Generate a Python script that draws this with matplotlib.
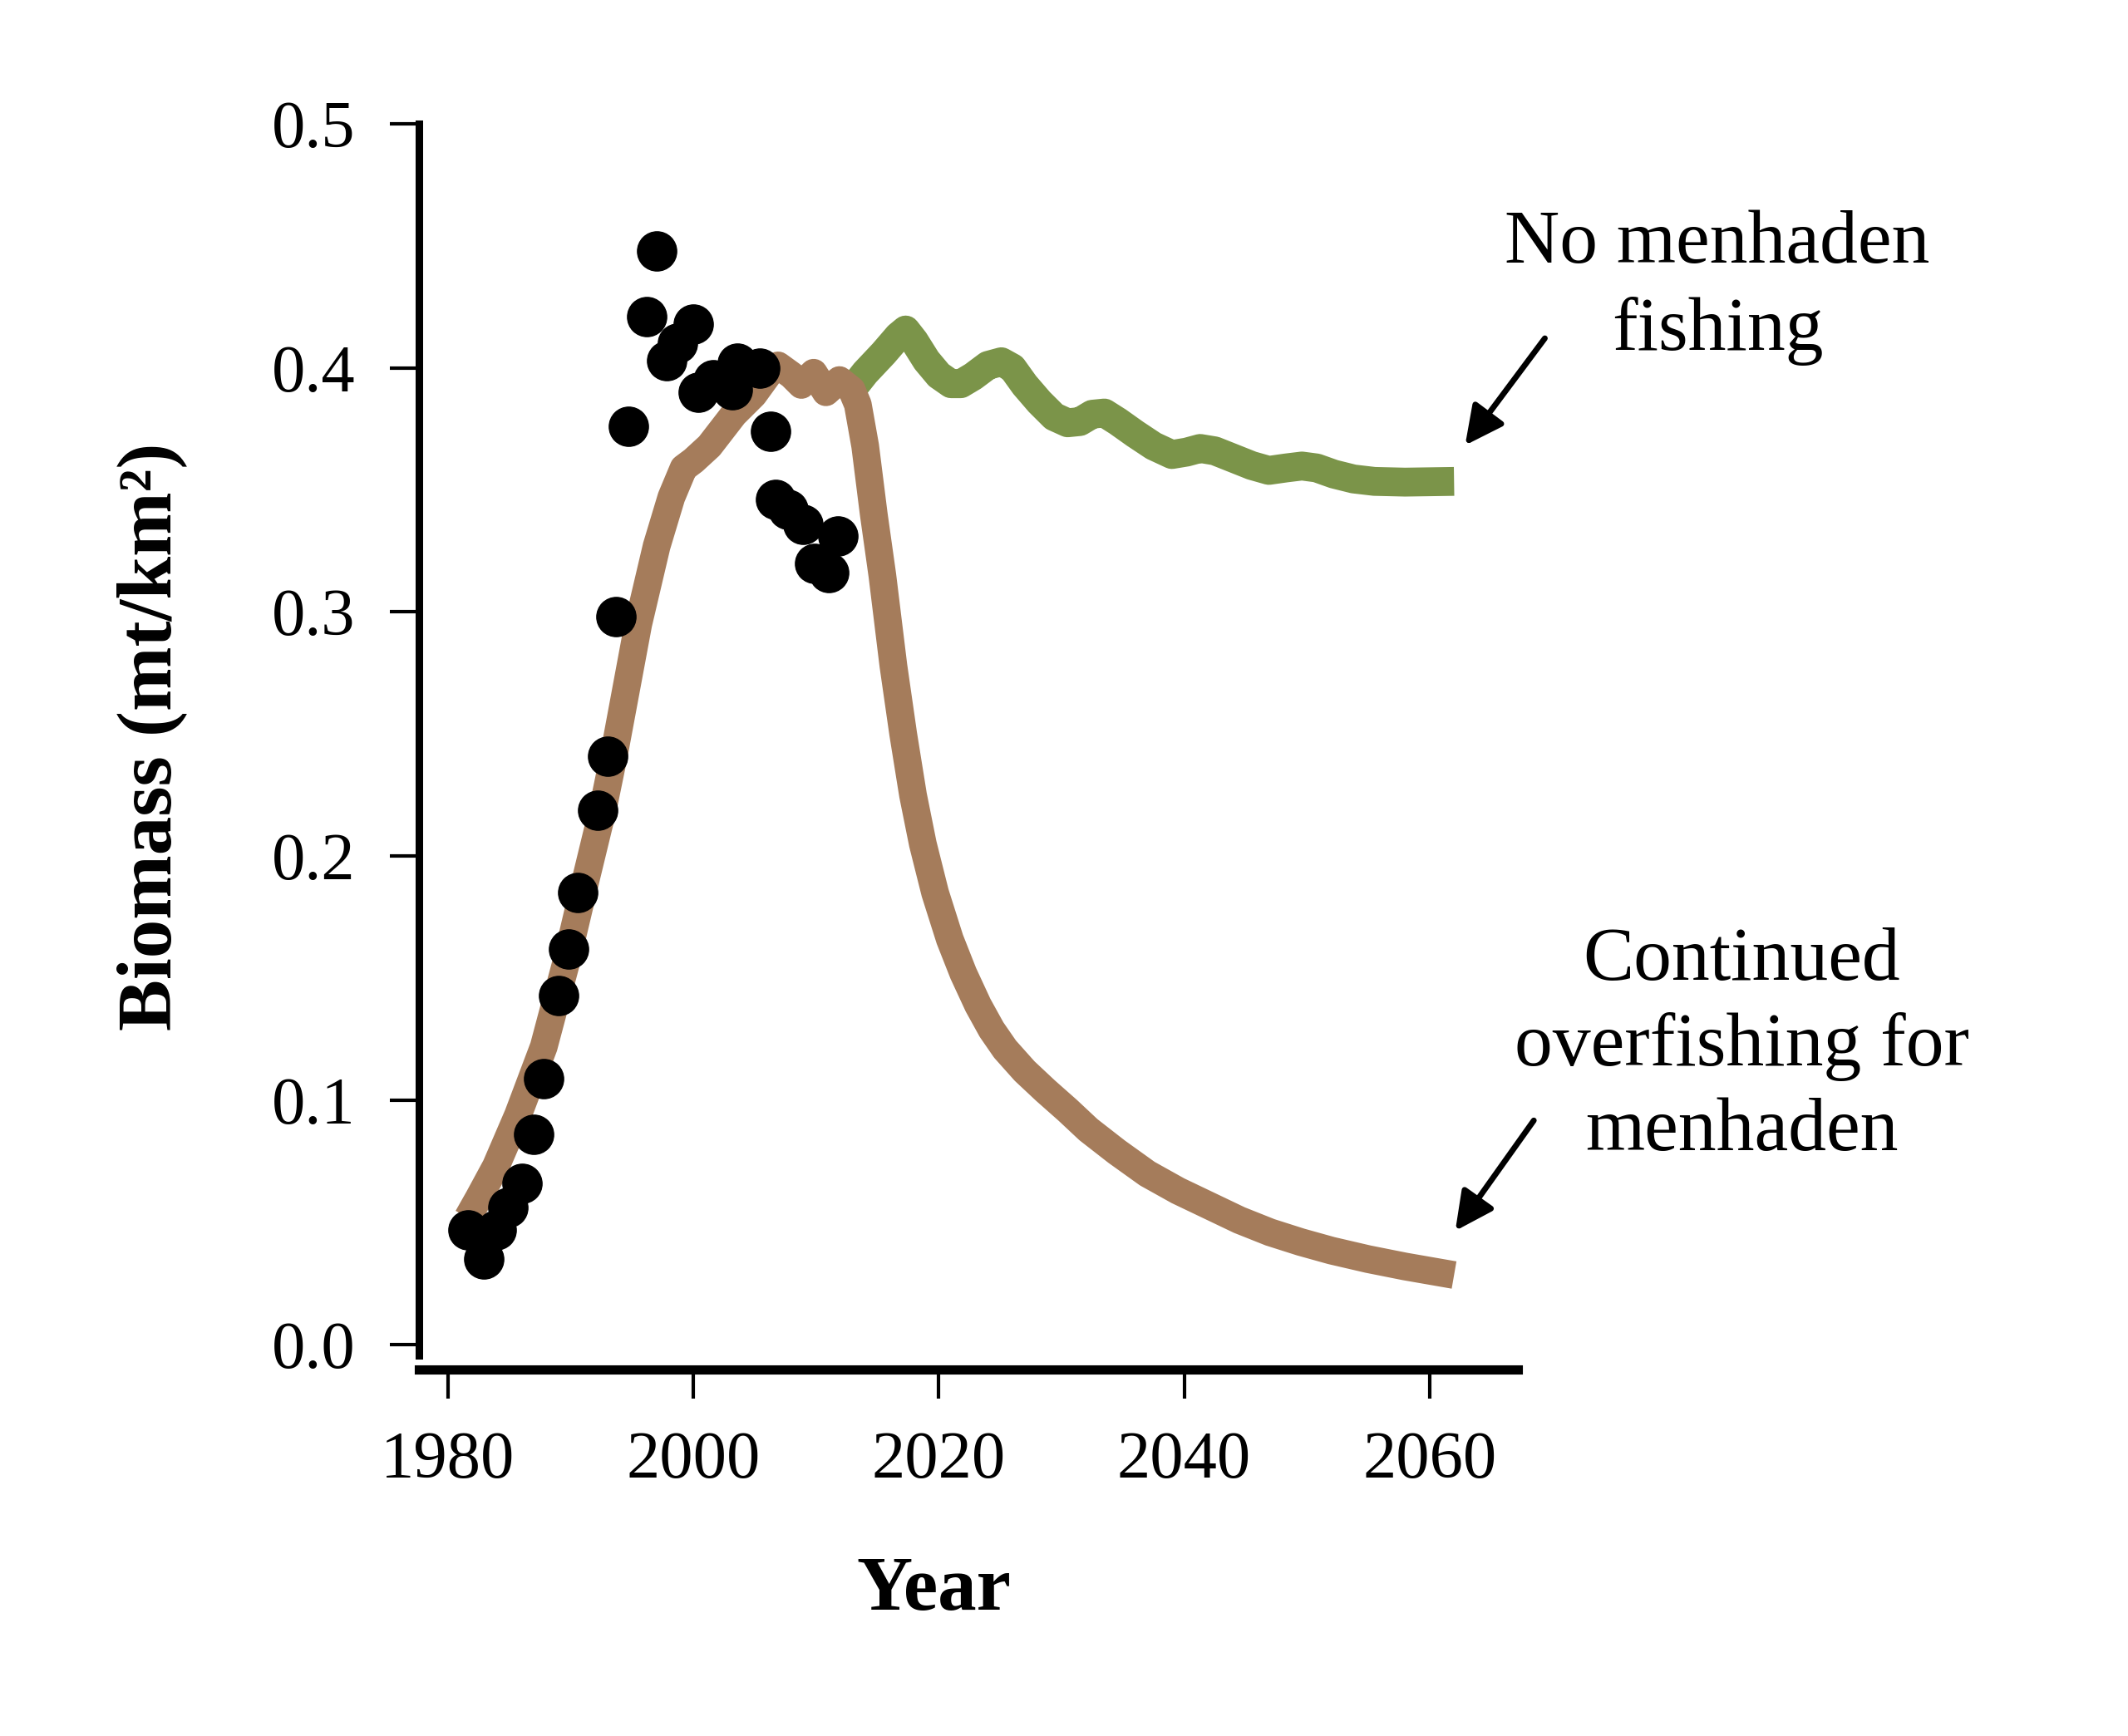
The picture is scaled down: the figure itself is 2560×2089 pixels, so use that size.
import matplotlib
matplotlib.use("Agg")
import matplotlib.pyplot as plt

plt.rcParams['font.family'] = ['Liberation Serif', 'DejaVu Serif']

# observed biomass (dots)
obs_year = [1981.6, 1982.9, 1983.9, 1984.9, 1986.0, 1987.0, 1987.8, 1989.0, 1989.8,
            1990.6, 1992.2, 1993.0, 1993.7, 1994.7, 1996.2, 1997.0, 1997.8, 1998.7,
            2000.0, 2000.4, 2001.6, 2003.2, 2003.6, 2005.4, 2006.3, 2006.7, 2007.7,
            2008.9, 2009.9, 2011.0, 2011.8]
obs_biomass = [0.047, 0.035, 0.047, 0.056, 0.066, 0.086, 0.109, 0.143, 0.162,
               0.185, 0.219, 0.241, 0.298, 0.376, 0.421, 0.448, 0.403, 0.410,
               0.418, 0.390, 0.395, 0.391, 0.402, 0.400, 0.374, 0.346, 0.342,
               0.336, 0.320, 0.316, 0.331]

# model run with continued overfishing
fished_year = [1981.6, 1982.5, 1983.9, 1985.7, 1987.8, 1989.6, 1991.2, 1992.6, 1993.5,
               1995.5, 1997.0, 1998.2, 1999.2, 2000.0, 2001.3, 2003.3, 2004.9, 2006.2,
               2006.9, 2008.0, 2008.8, 2009.8, 2010.8, 2011.9, 2012.9, 2013.4, 2014.0,
               2014.7, 2015.4, 2016.3, 2017.1, 2017.9, 2018.7, 2019.7, 2020.9, 2022.0,
               2023.2, 2024.3, 2025.4, 2027.0, 2028.7, 2030.5, 2032.2, 2034.5, 2037.0,
               2039.5, 2042.0, 2044.5, 2047.0, 2049.5, 2052.0, 2055.0, 2058.0, 2062.0]
fished_biomass = [0.052, 0.060, 0.073, 0.094, 0.122, 0.156, 0.190, 0.219, 0.241,
                  0.295, 0.327, 0.347, 0.359, 0.362, 0.368, 0.381, 0.389, 0.398,
                  0.401, 0.397, 0.393, 0.398, 0.390, 0.395, 0.391, 0.385, 0.368,
                  0.340, 0.315, 0.278, 0.250, 0.225, 0.205, 0.185, 0.166, 0.152,
                  0.139, 0.129, 0.121, 0.112, 0.104, 0.096, 0.088, 0.079, 0.070,
                  0.063, 0.057, 0.051, 0.046, 0.042, 0.0385, 0.035, 0.032, 0.0285]

# model run with no menhaden fishing
nofish_year = [2012.9, 2014.0, 2015.5, 2016.7, 2017.3, 2018.0, 2019.0, 2020.0, 2021.0,
               2021.8, 2022.8, 2024.0, 2025.1, 2026.0, 2027.0, 2028.2, 2029.4, 2030.5,
               2031.5, 2032.5, 2033.5, 2034.6, 2036.0, 2037.5, 2039.0, 2040.2, 2041.3,
               2042.5, 2044.0, 2045.5, 2046.9, 2048.3, 2049.6, 2050.8, 2052.2, 2053.8,
               2055.5, 2058.0, 2062.0]
nofish_biomass = [0.391, 0.398, 0.406, 0.413, 0.4155, 0.411, 0.403, 0.397, 0.3935,
                  0.3935, 0.3965, 0.401, 0.4025, 0.400, 0.393, 0.386, 0.380, 0.3775,
                  0.378, 0.381, 0.3815, 0.378, 0.373, 0.368, 0.3645, 0.3655, 0.367,
                  0.366, 0.363, 0.360, 0.358, 0.359, 0.3598, 0.359, 0.3565, 0.3545,
                  0.3535, 0.3532, 0.3535]

xticks = [1980, 2000, 2020, 2040, 2060]
yticks = [0.0, 0.1, 0.2, 0.3, 0.4, 0.5]

fig = plt.figure(figsize=(25.6, 20.89), dpi=100)
W, H = 2560, 2089
ax = fig.add_axes([503.6 / W, 1 - 1648 / H, (1826 - 503.6) / W, (1648 - 148.8) / H])

ax.plot(nofish_year, nofish_biomass, color='#7B9449', lw=25,
        solid_capstyle='butt', solid_joinstyle='round', zorder=2)
ax.plot(fished_year, fished_biomass, color='#A57C5B', lw=24,
        solid_capstyle='butt', solid_joinstyle='round', zorder=3)
ax.plot(obs_year, obs_biomass, 'o', color='black', ms=34, zorder=4)

ax.set_xlim(1977.6, 2067.2)
ax.set_ylim(-0.0102, 0.5)
ax.set_xticks(xticks)
ax.set_yticks(yticks)
ax.set_yticklabels(['%.1f' % v for v in yticks])

for s in ['top', 'right']:
    ax.spines[s].set_visible(False)
ax.spines['left'].set_linewidth(6.5)
ax.spines['bottom'].set_linewidth(8)
ax.spines['left'].set_bounds(-0.0045, 0.5)
ax.tick_params(axis='both', length=25, width=3, labelsize=58, color='black')
ax.tick_params(axis='y', pad=30)
ax.tick_params(axis='x', pad=28)

fig.text(183 / W, 1 - 886 / H, 'Biomass (mt/km²)', rotation=90,
         ha='center', va='center', fontsize=67, fontweight='bold')
fig.text(1123 / W, 1 - 1937 / H, 'Year', ha='center', va='baseline',
         fontsize=67, fontweight='bold')

# annotations
top_lines = ['No menhaden', 'fishing']
top_base = [316, 421]
for line, yb in zip(top_lines, top_base):
    fig.text(2066 / W, 1 - yb / H, line, ha='center', va='baseline', fontsize=66)

bot_lines = ['Continued', 'overfishing for', 'menhaden']
bot_base = [1179, 1282, 1384]
for line, yb in zip(bot_lines, bot_base):
    fig.text(2095 / W, 1 - yb / H, line, ha='center', va='baseline', fontsize=66)

arrow = dict(arrowstyle='-|>', lw=5, color='black', mutation_scale=70,
             shrinkA=0, shrinkB=0)
ax.annotate('', xy=(2062.9, 0.3683), xytext=(2069.4, 0.4121),
            arrowprops=arrow, annotation_clip=False)
ax.annotate('', xy=(2062.1, 0.0466), xytext=(2068.5, 0.0918),
            arrowprops=arrow, annotation_clip=False)

fig.savefig('out.png', dpi=100)
